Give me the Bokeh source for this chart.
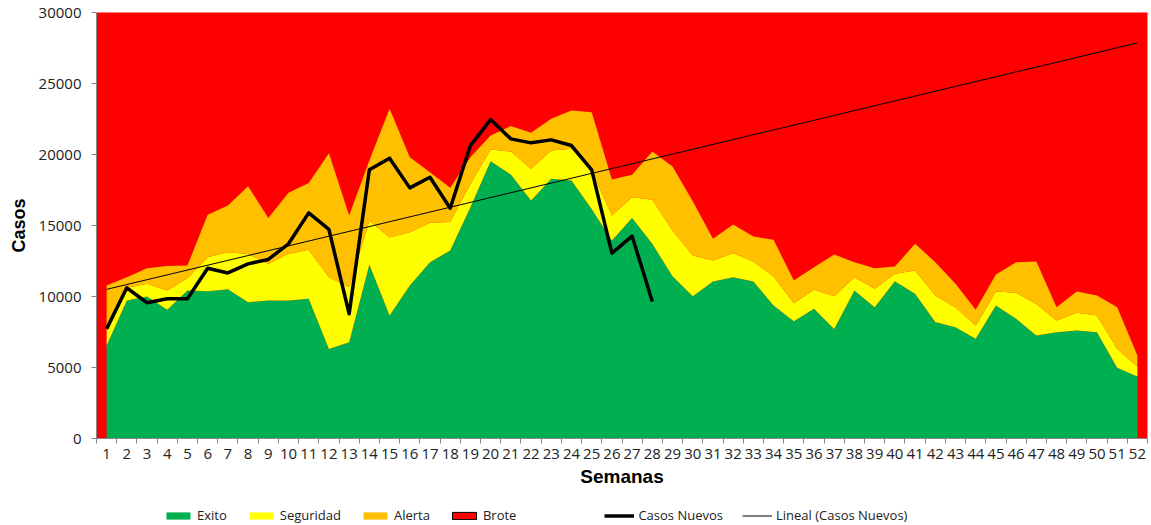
import numpy as np
from bokeh.plotting import figure
from bokeh.layouts import column
from bokeh.models import FixedTicker, Legend, LegendItem, Range1d, BasicTickFormatter
from bokeh.embed import file_html
from bokeh.resources import INLINE

# ---- data ----
weeks = list(range(1, 53))
week_labels = [str(w) for w in weeks]

# upper limit of each band (cases)
exito = [6550, 9720, 10000, 9060, 10420, 10370, 10510, 9600, 9720, 9720,
         9840, 6310, 6780, 12250, 8660, 10770, 12420, 13240, 16290, 19530,
         18590, 16760, 18290, 18170, 16170, 13940, 15520, 13710, 11420, 10020,
         11060, 11360, 11060, 9370, 8260, 9130, 7720, 10420, 9250, 11080,
         10190, 8200, 7840, 7020, 9370, 8430, 7250, 7490, 7610, 7490,
         4980, 4370]
seguridad = [8100, 10610, 10890, 10420, 11290, 12770, 13120, 13000, 12300, 13000,
             13290, 11360, 10660, 15350, 14160, 14530, 15190, 15240, 17930, 20350,
             20210, 18990, 20280, 20400, 18870, 15700, 16990, 16810, 14650, 12890,
             12540, 13050, 12460, 11410, 9530, 10470, 10020, 11360, 10540, 11600,
             11830, 10070, 9220, 7960, 10350, 10260, 9480, 8310, 8850, 8660,
             6310, 5070]
alerta = [10770, 11360, 11990, 12140, 12180, 15750, 16410, 17770, 15520, 17300,
          18000, 20090, 15700, 19580, 23220, 19810, 18750, 17650, 19810, 21340,
          22000, 21530, 22510, 23100, 22980, 18240, 18570, 20210, 19150, 16700,
          14060, 15070, 14230, 13990, 11130, 12060, 12960, 12420, 11990, 12110,
          13710, 12420, 10890, 9060, 11550, 12420, 12460, 9250, 10350, 10070,
          9250, 5850]
casos_weeks = list(range(1, 29))
casos = [7720, 10610, 9560, 9840, 9840, 11990, 11660, 12300, 12610, 13710,
         15890, 14720, 8780, 18920, 19740, 17650, 18400, 16220, 20630, 22460,
         21100, 20820, 21030, 20630, 18920, 13050, 14250, 9650]
y_ticks = [0, 5000, 10000, 15000, 20000, 25000, 30000]

# linear trend of Casos Nuevos (Excel "Lineal"), extended over all weeks
slope, intercept = np.polyfit(casos_weeks, casos, 1)
trend_x = [weeks[0], weeks[-1]]
trend_y = [slope * x + intercept for x in trend_x]

GREEN, YELLOW, ORANGE, RED = "#00B050", "#FFFF00", "#FFC000", "#FF0000"

p = figure(width=1151, height=489, output_backend="svg",
           toolbar_location=None, x_range=Range1d(0.5, 52.5),
           y_range=Range1d(0, 30000),
           min_border_left=96, min_border_right=4, min_border_top=12,
           min_border_bottom=0)
p.background_fill_color = RED
p.border_fill_color = "white"
p.outline_line_color = None
p.grid.visible = False

p.varea(x=weeks, y1=[0] * len(weeks), y2=exito, fill_color=GREEN)
p.varea(x=weeks, y1=exito, y2=seguridad, fill_color=YELLOW)
p.varea(x=weeks, y1=seguridad, y2=alerta, fill_color=ORANGE)
p.line(casos_weeks, casos, line_color="black", line_width=3.5, line_join="round")
p.line(trend_x, trend_y, line_color="black", line_width=1)

# axes
xa = p.xaxis[0]
xa.ticker = FixedTicker(ticks=weeks, minor_ticks=[w - 0.5 for w in weeks] + [52.5])
xa.major_label_overrides = {w: l for w, l in zip(weeks, week_labels)}
xa.major_tick_line_color = None
xa.minor_tick_line_color = "#888888"
xa.minor_tick_out = 5
xa.minor_tick_in = 0
xa.axis_line_color = "#888888"
xa.major_label_text_font = "Open Sans"
xa.major_label_text_font_size = "15px"
xa.major_label_text_color = "#222222"
xa.major_label_standoff = 4
xa.axis_label = "Semanas"
xa.axis_label_text_font = "Liberation Sans"
xa.axis_label_text_font_style = "bold"
xa.axis_label_text_font_size = "19px"
xa.axis_label_text_color = "black"
xa.axis_label_standoff = 4

ya = p.yaxis[0]
ya.ticker = FixedTicker(ticks=y_ticks, minor_ticks=[])
ya.formatter = BasicTickFormatter(use_scientific=False)
ya.major_tick_line_color = "#888888"
ya.major_tick_out = 5
ya.major_tick_in = 0
ya.minor_tick_line_color = None
ya.axis_line_color = "#888888"
ya.major_label_text_font = "Open Sans"
ya.major_label_text_font_size = "15px"
ya.major_label_text_color = "#222222"
ya.major_label_standoff = 10
ya.axis_label = "Casos"
ya.axis_label_text_font = "Liberation Sans"
ya.axis_label_text_font_style = "bold"
ya.axis_label_text_font_size = "18px"
ya.axis_label_text_color = "black"
ya.axis_label_standoff = 7

# ---- legend strip (separate figure below the chart) ----
lg = figure(width=1151, height=36, output_backend="svg", toolbar_location=None,
            x_axis_type=None, y_axis_type=None, x_range=Range1d(0, 1),
            y_range=Range1d(0, 1), min_border=0)
lg.outline_line_color = None
lg.grid.visible = False
lg.background_fill_color = "white"
lg.border_fill_color = "white"

# legend-only renderers: a single hidden sample outside the visible range
hid = [-10]
hid2 = [-9]

def swatch(color, line_color=None):
    return lg.quad(left=hid, right=hid2, top=hid2, bottom=hid, fill_color=color,
                   line_color=line_color, line_width=1)

l_exito = swatch(GREEN)
l_seg = swatch(YELLOW)
l_alerta = swatch(ORANGE)
l_brote = swatch(RED, "black")
l_gap = lg.line(x=hid + hid2, y=hid + hid, line_alpha=0)
l_casos = lg.line(x=hid + hid2, y=hid + hid, line_color="black", line_width=3.5)
l_trend = lg.line(x=hid + hid2, y=hid + hid, line_color="black", line_width=1)

legend = Legend(items=[LegendItem(label="Exito", renderers=[l_exito]),
                       LegendItem(label="Seguridad", renderers=[l_seg]),
                       LegendItem(label="Alerta", renderers=[l_alerta]),
                       LegendItem(label="Brote", renderers=[l_brote]),
                       LegendItem(label="", renderers=[l_gap]),
                       LegendItem(label="Casos Nuevos", renderers=[l_casos]),
                       LegendItem(label="Lineal (Casos Nuevos)", renderers=[l_trend])],
                orientation="horizontal", location=(67, 1),
                padding=0, margin=0, spacing=19, glyph_width=30,
                glyph_height=9, label_height=14, label_width=16,
                label_standoff=4, label_text_font="Open Sans",
                label_text_font_size="13px", label_text_color="#222222",
                background_fill_alpha=0, border_line_color=None)
lg.add_layout(legend, "center")

layout = column(p, lg, spacing=0)
open("out.html", "w").write(file_html(layout, INLINE))
